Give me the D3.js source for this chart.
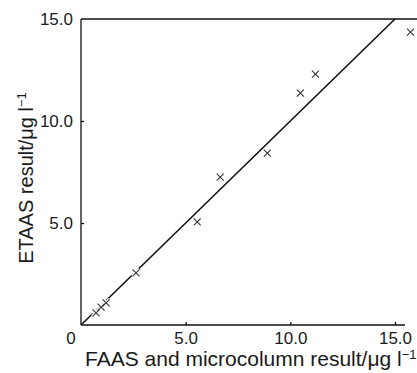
<html>
<head>
    <script src="https://d3js.org/d3.v7.min.js" charset="utf-8"></script>
    <style>
        body { margin: 0; background: #fff; }
        text { font-family: "Liberation Sans", Arial, sans-serif; fill: #1a1a1a; }
    </style>
</head>

<body>
    <script type="text/javascript">
        // Chart size
        var width = 417;
        var height = 373;

        // Data (FAAS/microcolumn vs ETAAS, ug/l)
        var faas  = [0.72, 0.96, 1.2, 2.63, 5.55, 6.65, 8.9, 10.48, 11.2, 15.74];
        var etaas = [0.59, 0.88, 1.08, 2.55, 5.05, 7.25, 8.43, 11.37, 12.3, 14.36];
        var lineX = [0, 15];   // line of equality
        var xTicks = [5, 10, 15];
        var yTicks = [5, 10, 15];

        var svg = d3.select("body").append("svg")
            .attr("width", width)
            .attr("height", height);

        var x = d3.scaleLinear().domain([0, 15]).range([81, 395]);
        var y = d3.scaleLinear().domain([0, 15]).range([325, 19]);

        // Axes, ticks point inwards
        var xAxis = d3.axisBottom(x)
            .tickValues(xTicks)
            .tickSize(-3)
            .tickPadding(7)
            .tickFormat(d3.format(".1f"));

        var yAxis = d3.axisLeft(y)
            .tickValues(yTicks.slice(0, 2))
            .tickSize(-3)
            .tickPadding(8)
            .tickFormat(d3.format(".1f"));

        var gx = svg.append("g")
            .attr("transform", "translate(0," + y(0) + ")")
            .call(xAxis);
        gx.select(".domain").attr("d", "M" + x(0) + ",0H" + (x(15) + 10));

        var gy = svg.append("g")
            .attr("transform", "translate(" + x(0) + ",0)")
            .call(yAxis);
        gy.select(".domain").attr("d", "M0," + y(0) + "V" + y(15));

        svg.selectAll(".domain, .tick line")
            .attr("stroke", "#111")
            .attr("stroke-width", 1.3);
        svg.selectAll(".tick text")
            .style("font-size", "17px")
            .attr("fill", "#1a1a1a");

        // 15.0 label sits at the top frame line
        svg.append("text")
            .attr("x", x(0) - 8)
            .attr("y", y(15))
            .attr("dy", "0.35em")
            .attr("text-anchor", "end")
            .style("font-size", "17px")
            .text(d3.format(".1f")(yTicks[2]));

        // shared origin label
        svg.append("text")
            .attr("x", 71)
            .attr("y", y(0) + 7)
            .attr("dy", "0.71em")
            .attr("text-anchor", "middle")
            .style("font-size", "17px")
            .text("0");

        // top frame line runs off to the right edge
        svg.append("line")
            .attr("x1", x(0)).attr("x2", width)
            .attr("y1", y(15)).attr("y2", y(15))
            .attr("stroke", "#111")
            .attr("stroke-width", 1.3);

        // line of equality
        svg.append("path")
            .datum(lineX)
            .attr("fill", "none")
            .attr("stroke", "#111")
            .attr("stroke-width", 1.6)
            .attr("d", d3.line().x(d => x(d)).y(d => y(d)));

        // cross markers, with a white halo so the line breaks around them
        var pts = faas.map((v, i) => [v, etaas[i]]);
        var cross = function(d) {
            var cx = x(d[0]), cy = y(d[1]), s = 3.5;
            return "M" + (cx - s) + "," + (cy - s) + "L" + (cx + s) + "," + (cy + s) +
                   "M" + (cx - s) + "," + (cy + s) + "L" + (cx + s) + "," + (cy - s);
        };

        svg.append("g").selectAll("path")
            .data(pts)
            .join("path")
            .attr("d", cross)
            .attr("stroke", "#fff")
            .attr("stroke-width", 4);

        svg.append("g").selectAll("path")
            .data(pts)
            .join("path")
            .attr("d", cross)
            .attr("stroke", "#333")
            .attr("stroke-width", 1.1);

        // axis titles
        var xt = svg.append("text")
            .attr("x", 85)
            .attr("y", 366)
            .style("font-size", "21px");
        xt.append("tspan").text("FAAS and microcolumn result/\u03bcg l");
        xt.append("tspan").attr("dy", -7).style("font-size", "13px").text("\u22121");

        var yt = svg.append("text")
            .attr("transform", "translate(33,178) rotate(-90)")
            .attr("text-anchor", "middle")
            .style("font-size", "20px");
        yt.append("tspan").text("ETAAS result/\u03bcg l");
        yt.append("tspan").attr("dy", -7).style("font-size", "13px").text("\u22121");
    </script>
</body>

</html>
